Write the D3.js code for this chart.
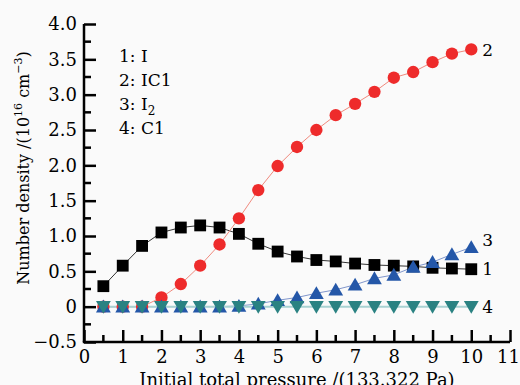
<!DOCTYPE html>
<html>
<head>
<meta charset="utf-8">
<script src="https://cdn.jsdelivr.net/npm/d3@7"></script>
<style>
  html, body { margin: 0; padding: 0; background: #fafafa; }
  svg { display: block; font-family: "DejaVu Serif", serif; }
</style>
</head>
<body>
<div id="chart"></div>
<script>
// data
var pressure = [0.5, 1, 1.5, 2, 2.5, 3, 3.5, 4, 4.5, 5, 5.5, 6, 6.5, 7, 7.5, 8, 8.5, 9, 9.5, 10];
var iodine   = [0.29, 0.58, 0.86, 1.05, 1.12, 1.15, 1.12, 1.03, 0.89, 0.78, 0.71, 0.66, 0.64, 0.61, 0.59, 0.58, 0.57, 0.55, 0.54, 0.53];
var icl      = [0, 0, 0, 0.13, 0.32, 0.58, 0.88, 1.25, 1.65, 1.99, 2.26, 2.50, 2.71, 2.87, 3.04, 3.24, 3.32, 3.46, 3.58, 3.64];
var i2       = [0, 0, 0, 0, 0, 0, 0, 0.01, 0.04, 0.09, 0.13, 0.19, 0.24, 0.31, 0.40, 0.45, 0.56, 0.63, 0.74, 0.84];
var cl       = [0, 0, 0, 0, 0, 0, 0, 0, 0, 0, 0, 0, 0, 0, 0, 0, 0, 0, 0, 0];
var xTicks   = [0, 1, 2, 3, 4, 5, 6, 7, 8, 9, 10, 11];
var yTicks   = [-0.5, 0, 0.5, 1.0, 1.5, 2.0, 2.5, 3.0, 3.5, 4.0];
var legendLines = ["1: I", "2: IC1", "3: I", "4: C1"];

var width = 520, height = 385;
var margin = { top: 24, right: 10, bottom: 43, left: 84 };

var svg = d3.select("#chart").append("svg")
  .attr("width", width)
  .attr("height", height);

var x = d3.scaleLinear().domain([0, 11]).range([margin.left, width - margin.right]);
var y = d3.scaleLinear().domain([-0.5, 4.0]).range([height - margin.bottom, margin.top]);

// axes, ticks pointing inward
var xAxis = svg.append("g")
  .attr("transform", "translate(0," + y(-0.5) + ")")
  .call(d3.axisBottom(x).tickValues(xTicks).tickSize(-12).tickPadding(8).tickFormat(d3.format("d")));
xAxis.append("g").selectAll("line")
  .data(d3.range(0.5, 11, 1))
  .enter().append("line")
  .attr("x1", function (d) { return x(d); })
  .attr("x2", function (d) { return x(d); })
  .attr("y1", 0).attr("y2", -7);
// last label sits against the right edge
xAxis.selectAll(".tick text").filter(function (d) { return d === 11; }).attr("dx", -2);

var yAxis = svg.append("g")
  .attr("transform", "translate(" + x(0) + ",0)")
  .call(d3.axisLeft(y).tickValues(yTicks).tickSize(-12).tickPadding(7)
    .tickFormat(function (d) { return d === 0 ? "0" : (d < 0 ? "\u2212" + (-d).toFixed(1) : d.toFixed(1)); }));
yAxis.append("g").selectAll("line")
  .data(d3.range(-0.25, 4.0, 0.5))
  .enter().append("line")
  .attr("x1", 0).attr("x2", 7)
  .attr("y1", function (d) { return y(d); })
  .attr("y2", function (d) { return y(d); });

svg.selectAll(".tick line, g > g > line").attr("stroke", "#000").attr("stroke-width", 2.5);
svg.selectAll(".tick text").attr("font-size", 18).attr("fill", "#000")
  .attr("font-family", "DejaVu Serif, serif");

// plain axis lines without the outer ticks
svg.selectAll(".domain").remove();
svg.append("line").attr("x1", x(0) - 1.2).attr("x2", x(11)).attr("y1", y(-0.5)).attr("y2", y(-0.5))
  .attr("stroke", "#000").attr("stroke-width", 2.5);
svg.append("line").attr("x1", x(0)).attr("x2", x(0)).attr("y1", y(-0.5)).attr("y2", y(4.0))
  .attr("stroke", "#000").attr("stroke-width", 2.5);

// series
var series = [
  { values: iodine, line: "#333333", lw: 1, fill: "#000000", sym: d3.symbolSquare, size: 140, rot: 0, label: "1" },
  { values: icl,    line: "#f08a7e", lw: 1, fill: "#ee2b2b", sym: d3.symbolCircle, size: 120, rot: 0, label: "2" },
  { values: i2,     line: "#8096cc", lw: 1, fill: "#2457a8", sym: d3.symbolTriangle, size: 95, rot: 0, label: "3" },
  { values: cl,     line: "#a9d2d2", lw: 2, fill: "#2a8282", sym: d3.symbolTriangle, size: 95, rot: 180, label: "4" }
];

var line = d3.line()
  .x(function (d, i) { return x(pressure[i]); })
  .y(function (d) { return y(d); });

series.forEach(function (s) {
  svg.append("path")
    .datum(s.values)
    .attr("fill", "none")
    .attr("stroke", s.line)
    .attr("stroke-width", s.lw)
    .attr("d", line);
});

series.forEach(function (s) {
  var sym = d3.symbol().type(s.sym).size(s.size);
  svg.append("g").selectAll("path")
    .data(s.values)
    .enter().append("path")
    .attr("d", sym)
    .attr("fill", s.fill)
    .attr("transform", function (d, i) {
      var dy = s.sym === d3.symbolTriangle ? (s.rot ? -1.5 : 1.5) : 0;
      return "translate(" + x(pressure[i]) + "," + (y(d) + dy) + ") rotate(" + s.rot + ")";
    });
});

// curve numbers at the right end
var endY = { "1": iodine[19], "2": icl[19], "3": i2[19] + 0.1, "4": cl[19] };
series.forEach(function (s) {
  svg.append("text")
    .attr("x", x(10) + 11)
    .attr("y", y(endY[s.label]))
    .attr("dy", "0.36em")
    .attr("font-size", 17)
    .text(s.label);
});

// legend text
var legend = svg.append("g").attr("font-size", 17);
legendLines.forEach(function (t, i) {
  var txt = legend.append("text")
    .attr("x", 119)
    .attr("y", 62 + i * 24)
    .text(t);
  if (i === 2) {
    txt.append("tspan").attr("dy", 5).attr("font-size", 12).text("2");
  }
});

// axis titles
svg.append("text")
  .attr("x", 297)
  .attr("y", 386)
  .attr("text-anchor", "middle")
  .attr("font-size", 18)
  .text("Initial total pressure /(133.322 Pa)");

var yl = svg.append("text")
  .attr("transform", "translate(29,168) rotate(-90)")
  .attr("text-anchor", "middle")
  .attr("font-size", 16);
yl.append("tspan").text("Number density /(10");
yl.append("tspan").attr("dy", -7).attr("font-size", 11).text("16");
yl.append("tspan").attr("dy", 7).text(" cm");
yl.append("tspan").attr("dy", -7).attr("font-size", 11).text("\u22123");
yl.append("tspan").attr("dy", 7).text(")");
</script>
</body>
</html>
